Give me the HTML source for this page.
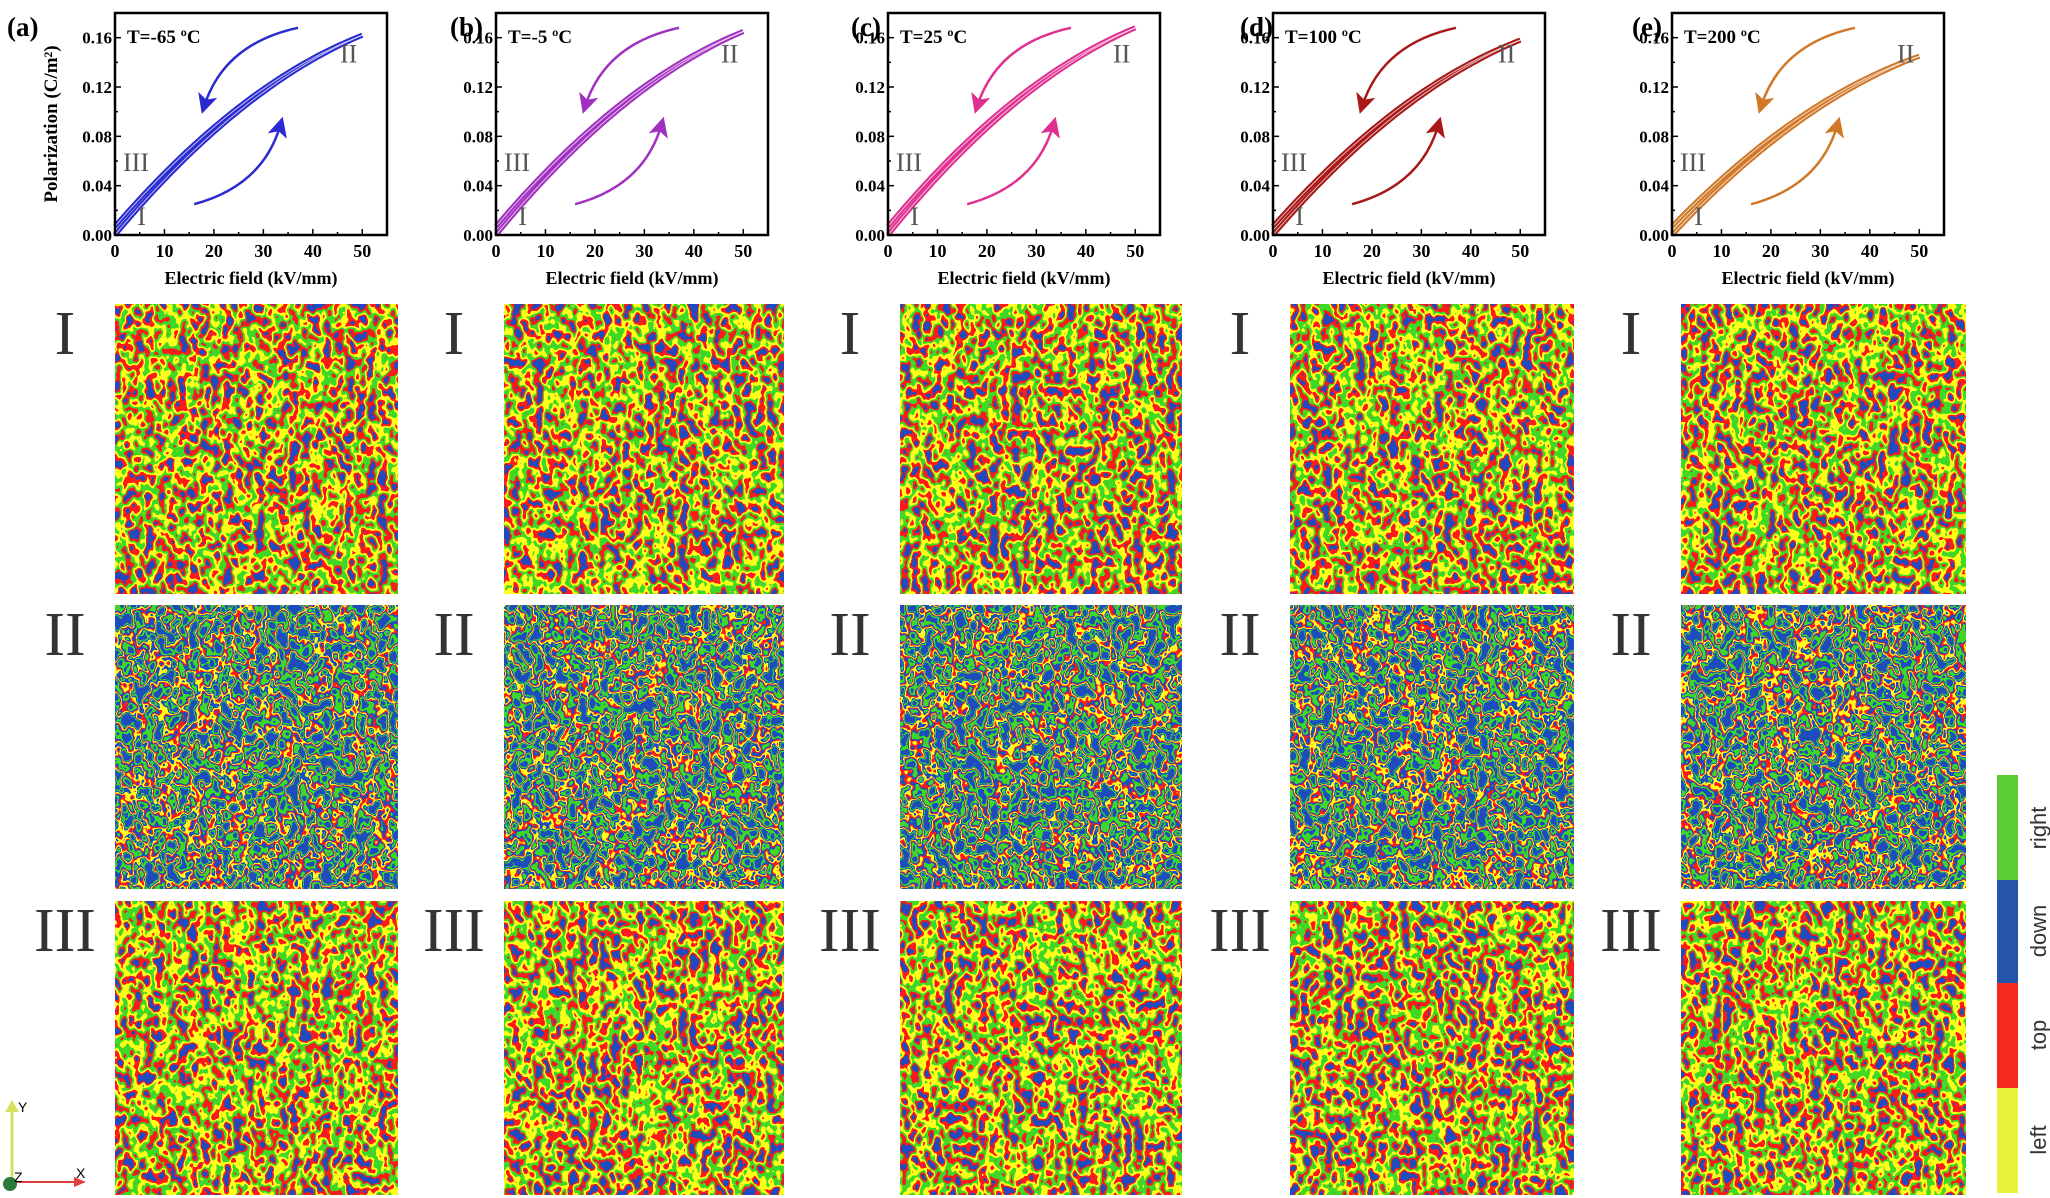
<!DOCTYPE html>
<html><head><meta charset="utf-8">
<style>
html,body{margin:0;padding:0;background:#fff;}
svg{display:block;}
</style></head>
<body>
<svg id="s" width="2050" height="1198" viewBox="0 0 2050 1198" xmlns="http://www.w3.org/2000/svg" font-family="'Liberation Serif', serif">
<defs>
  <filter id="fm" x="0" y="0" width="1" height="1" color-interpolation-filters="sRGB">
    <feTurbulence type="fractalNoise" baseFrequency="0.09 0.07" numOctaves="2" seed="3"/>
    <feColorMatrix type="matrix" values="1 0 0 0 0 1 0 0 0 0 1 0 0 0 0 0 0 0 0 1"/>
    <feComponentTransfer><feFuncR type="linear" slope="1.8" intercept="-0.4"/><feFuncG type="linear" slope="1.8" intercept="-0.4"/><feFuncB type="linear" slope="1.8" intercept="-0.4"/></feComponentTransfer>
    <feComponentTransfer>
      <feFuncR type="discrete" tableValues="0.12 1 0.25 1 1 0.12"/>
      <feFuncG type="discrete" tableValues="0.3 0.1 0.85 1 0.1 0.3"/>
      <feFuncB type="discrete" tableValues="0.75 0.1 0.15 0.1 0.1 0.75"/>
    </feComponentTransfer>
  </filter>
  <filter id="fb" x="0" y="0" width="1" height="1" color-interpolation-filters="sRGB">
    <feTurbulence type="fractalNoise" baseFrequency="0.09 0.07" numOctaves="2" seed="7"/>
    <feColorMatrix type="matrix" values="1 0 0 0 0 1 0 0 0 0 1 0 0 0 0 0 0 0 0 1"/>
    <feComponentTransfer><feFuncR type="linear" slope="1.8" intercept="-0.4"/><feFuncG type="linear" slope="1.8" intercept="-0.4"/><feFuncB type="linear" slope="1.8" intercept="-0.4"/></feComponentTransfer>
    <feComponentTransfer>
      <feFuncR type="discrete" tableValues="0.12 0.12 0.25 0.25 0.12 1 1 0.12 0.25 0.12 0.12 0.12"/>
      <feFuncG type="discrete" tableValues="0.3 0.3 0.85 0.85 0.3 0.1 1 0.3 0.85 0.3 0.3 0.3"/>
      <feFuncB type="discrete" tableValues="0.75 0.75 0.15 0.15 0.75 0.1 0.1 0.75 0.15 0.75 0.75 0.75"/>
    </feComponentTransfer>
  </filter>
  <marker id="ah" markerWidth="8" markerHeight="8" refX="5" refY="4" orient="auto" markerUnits="strokeWidth"><path d="M0,0 L8,4 L0,8 L2,4 z" fill="context-stroke"/></marker>
</defs>
<g id="g"></g>
<rect x="1997" y="775" width="21" height="105" fill="#5ccc35"/>
<rect x="1997" y="880" width="21" height="103" fill="#2455a8"/>
<rect x="1997" y="983" width="21" height="105" fill="#f42a1e"/>
<rect x="1997" y="1088" width="21" height="105" fill="#e6f23c"/>
<g font-family="'Liberation Sans', sans-serif" font-size="22" fill="#333">
<text transform="translate(2046,828) rotate(-90)" text-anchor="middle">right</text>
<text transform="translate(2046,931) rotate(-90)" text-anchor="middle">down</text>
<text transform="translate(2046,1035) rotate(-90)" text-anchor="middle">top</text>
<text transform="translate(2046,1140) rotate(-90)" text-anchor="middle">left</text>
</g>
<line x1="12" y1="1180" x2="12" y2="1108" stroke="#d8e060" stroke-width="3"/>
<path d="M5,1112 L12,1100 L19,1112 z" fill="#d8e060"/>
<text x="18" y="1112" font-size="14" font-family="'Liberation Sans',sans-serif">Y</text>
<line x1="12" y1="1182" x2="78" y2="1182" stroke="#e04040" stroke-width="2"/>
<path d="M74,1177 L86,1182 L74,1187 z" fill="#e04040"/>
<text x="76" y="1178" font-size="14" font-family="'Liberation Sans',sans-serif">X</text>
<circle cx="10" cy="1184" r="7" fill="#2a7a3a"/>
<text x="14" y="1182" font-size="14" font-family="'Liberation Sans',sans-serif">Z</text>
</svg>
<script>
const g=document.getElementById('g');let h='';
const lefts=[115,496,888,1273,1672];
const labs=['(a)','(b)','(c)','(d)','(e)'];
const labx=[7,450,851,1240,1632];
const temps=['T=-65 ºC','T=-5 ºC','T=25 ºC','T=100 ºC','T=200 ºC'];
const cols=['#2a2ad0','#a030c0','#e0308f','#a81818','#d07828'];
const ends=[0.162,0.165,0.168,0.158,0.145];
const T=13,W=272,H=222;
for(let i=0;i<5;i++){
 const L=lefts[i];const X=e=>L+e*W/55;const Y=p=>T+H-p*H/0.18;
 h+=`<text x="${labx[i]}" y="36" font-size="27" font-weight="bold">${labs[i]}</text>`;
 const k=ends[i]/0.1625;let d1='',d2='';
 for(let e=0;e<=50;e+=1){const p=(0.0048*e-0.000031*e*e)*k;d1+=(e?'L':'M')+X(e).toFixed(1)+','+Y(p).toFixed(1);d2+=(e?'L':'M')+X(e).toFixed(1)+','+Y(p+0.007*(1-e/50)).toFixed(1);}
 h+=`<path d="${d1}" fill="none" stroke="${cols[i]}" stroke-width="5"/><path d="${d2}" fill="none" stroke="${cols[i]}" stroke-width="5"/>`;
 h+=`<path d="${d1}" fill="none" stroke="#fff" stroke-width="1" opacity="0.7"/><path d="${d2}" fill="none" stroke="#fff" stroke-width="1" opacity="0.7"/>`;
 h+=`<path d="M${X(37)},${Y(0.168)} Q${X(22)},${Y(0.155)} ${X(18)},${Y(0.104)}" fill="none" stroke="${cols[i]}" stroke-width="2.5" marker-end="url(#ah)"/>`;
 h+=`<path d="M${X(16)},${Y(0.025)} Q${X(30)},${Y(0.04)} ${X(33.5)},${Y(0.09)}" fill="none" stroke="${cols[i]}" stroke-width="2.5" marker-end="url(#ah)"/>`;
 h+=`<rect x="${L}" y="${T}" width="${W}" height="${H}" fill="none" stroke="#000" stroke-width="2.5"/>`;
 for(let e=0;e<=55;e+=5){const M=e%10==0;h+=`<line x1="${X(e)}" y1="${T+H}" x2="${X(e)}" y2="${T+H-(M?6:3)}" stroke="#000" stroke-width="1.5"/>`;if(M&&e<=50)h+=`<text x="${X(e)}" y="${T+H+22}" font-size="18" font-weight="bold" text-anchor="middle">${e}</text>`;}
 for(let j=0;j<=9;j++){const p=j*0.02;const M=j%2==0;h+=`<line x1="${L}" y1="${Y(p)}" x2="${L+(M?6:3)}" y2="${Y(p)}" stroke="#000" stroke-width="1.5"/>`;if(M&&j<=8)h+=`<text x="${L-3}" y="${Y(p)+6}" font-size="17" font-weight="bold" text-anchor="end">${p.toFixed(2)}</text>`;}
 h+=`<text x="${L+W/2}" y="${T+H+49}" font-size="18" font-weight="bold" text-anchor="middle">Electric field (kV/mm)</text>`;
 h+=`<text x="${L+12}" y="${T+30}" font-size="19" font-weight="bold">${temps[i]}</text>`;
 h+=`<text x="${X(4.5)}" y="${Y(0.008)}" font-size="26" fill="#555">I</text>`;
 h+=`<text x="${L+8}" y="${Y(0.052)}" font-size="26" fill="#555">III</text>`;
 h+=`<text x="${X(45.5)}" y="${Y(0.14)}" font-size="26" fill="#555">II</text>`;
}
h+=`<text transform="translate(57,124) rotate(-90)" font-size="19" font-weight="bold" text-anchor="middle">Polarization (C/m²)</text>`;
const mx=[[115,398],[504,784],[900,1182],[1290,1574],[1681,1966]];
const rows=[[304,594,'fm','I'],[605,889,'fb','II'],[901,1195,'fm','III']];
rows.forEach((r,ri)=>{mx.forEach((c,ci)=>{
 h+=`<rect x="${c[0]}" y="${r[0]}" width="${c[1]-c[0]}" height="${r[1]-r[0]}" filter="url(#${r[2]})" fill="#000"/>`;
 h+=`<text x="${c[0]-50}" y="${r[0]+50}" font-size="62" fill="#333" text-anchor="middle">${r[3]}</text>`;
});});
g.innerHTML=h;
</script>
</body></html>
